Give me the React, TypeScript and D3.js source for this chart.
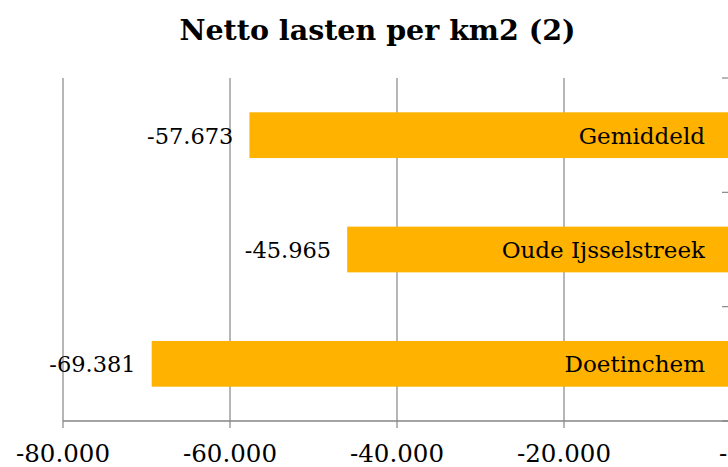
import React, { useRef, useEffect } from 'react';
import * as d3 from 'd3';

const categories = ['Gemiddeld', 'Oude Ijsselstreek', 'Doetinchem'];
const values = [-57673, -45965, -69381];
const xTicks = [-80000, -60000, -40000, -20000, 0];
const title = 'Netto lasten per km2 (2)';

const fmt = (v: number) => {
  const s = d3.format(',.0f')(Math.abs(v)).replace(/,/g, '.');
  return (v <= 0 ? '-' : '') + s;
};

const BarChart: React.FC = () => {
  const svgRef = useRef<SVGSVGElement>(null);
  const width = 728;
  const height = 467;

  useEffect(() => {
    if (!svgRef.current) return;
    const font = "Georgia, 'DejaVu Serif', serif";
    const grey = '#868686';

    d3.select(svgRef.current).selectAll('*').remove();
    const svg = d3.select(svgRef.current)
      .attr('width', width)
      .attr('height', height);

    const plot = { left: 63, right: 731, top: 78, bottom: 421 };

    const x = d3.scaleLinear()
      .domain([-80000, 0])
      .range([plot.left, plot.right]);

    const y = d3.scaleBand()
      .domain(categories)
      .range([plot.top, plot.bottom])
      .paddingInner(0.6)
      .paddingOuter(0.3);

    // title
    svg.append('text')
      .attr('x', 377.5)
      .attr('y', 39.5)
      .attr('text-anchor', 'middle')
      .attr('font-family', font)
      .attr('font-weight', 'bold')
      .attr('font-size', 28.5)
      .text(title);

    // vertical gridlines + ticks below the axis
    svg.append('g')
      .selectAll('line')
      .data(xTicks)
      .enter()
      .append('line')
      .attr('x1', d => x(d))
      .attr('x2', d => x(d))
      .attr('y1', plot.top)
      .attr('y2', plot.bottom + 7)
      .attr('stroke', grey)
      .attr('stroke-width', 1.2);

    // x axis line
    svg.append('line')
      .attr('x1', plot.left)
      .attr('x2', plot.right)
      .attr('y1', plot.bottom)
      .attr('y2', plot.bottom)
      .attr('stroke', grey)
      .attr('stroke-width', 1.5);

    // category axis tick marks at band edges (axis sits at 0)
    const step = (plot.bottom - plot.top) / categories.length;
    svg.append('g')
      .selectAll('line')
      .data(d3.range(categories.length + 1).map(i => plot.top + i * step))
      .enter()
      .append('line')
      .attr('x1', x(0) - 9)
      .attr('x2', x(0))
      .attr('y1', d => d)
      .attr('y2', d => d)
      .attr('stroke', grey)
      .attr('stroke-width', 1.2);

    // x tick labels
    svg.append('g')
      .selectAll('text')
      .data(xTicks)
      .enter()
      .append('text')
      .attr('x', d => x(d))
      .attr('y', 462)
      .attr('text-anchor', 'middle')
      .attr('font-family', font)
      .attr('font-size', 24.5)
      .text(d => fmt(d));

    const rows = categories.map((c, i) => ({ name: c, value: values[i] }));

    // bars
    svg.append('g')
      .selectAll('rect')
      .data(rows)
      .enter()
      .append('rect')
      .attr('x', d => x(d.value))
      .attr('y', d => y(d.name)!)
      .attr('width', d => x(0) - x(d.value))
      .attr('height', y.bandwidth())
      .attr('fill', '#FFB300');

    // value labels
    svg.append('g')
      .selectAll('text')
      .data(rows)
      .enter()
      .append('text')
      .attr('x', d => x(d.value) - 16)
      .attr('y', d => y(d.name)! + y.bandwidth() / 2 + 8.5)
      .attr('text-anchor', 'end')
      .attr('font-family', font)
      .attr('font-size', 22.5)
      .text(d => fmt(d.value));

    // category labels next to the axis
    svg.append('g')
      .selectAll('text')
      .data(rows)
      .enter()
      .append('text')
      .attr('x', x(0) - 26)
      .attr('y', d => y(d.name)! + y.bandwidth() / 2 + 8.5)
      .attr('text-anchor', 'end')
      .attr('font-family', font)
      .attr('font-size', 23)
      .text(d => d.name);
  }, []);

  return (
    <svg
      ref={svgRef}
      style={{ position: 'absolute', left: 0, top: 0, display: 'block' }}
    />
  );
};

export default function App() {
  return <BarChart />;
}
